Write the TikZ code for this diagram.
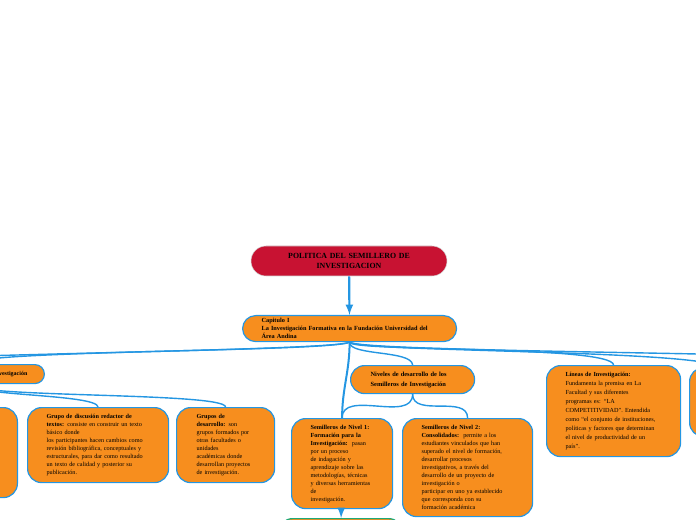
\documentclass[tikz,border=0pt]{standalone}
\usepackage{fontspec}
\setmainfont{Liberation Serif}
\newlength\pxu
\setlength\pxu{0.75pt}
\definecolor{naranja}{RGB}{247,142,30}
\definecolor{rojo}{RGB}{200,18,50}
\definecolor{azul}{RGB}{36,150,226}
\definecolor{verdeb}{RGB}{30,170,120}

\begin{document}
\begin{tikzpicture}[
x=1\pxu,
y=-1\pxu,
raiz/.style={
draw=gray!35,
fill=rojo,
rounded corners=15\pxu,
align=center,
font=\bfseries\fontsize{5.9}{7.5}\selectfont,
minimum width=196\pxu,
minimum height=30\pxu,
text width=180\pxu
},
caja/.style={
draw=azul,
line width=1.2\pxu,
fill=naranja,
rounded corners=14\pxu,
align=left,
anchor=north west,
inner ysep=0pt,
font=\fontsize{4.65}{6}\selectfont
},
conector/.style={
draw=azul,
line width=1.4\pxu
},
flecha/.style={
conector,
line width=2.2\pxu,
-latex
}
]

\useasboundingbox (0,0) rectangle (696,520);
\clip (0,0) rectangle (696,520);

\node[raiz] (raiz) at (349,261)
{POLITICA DEL SEMILLERO DE\\INVESTIGACION};

\node[caja, rounded corners=13\pxu, minimum height=26\pxu, text width=176\pxu, inner xsep=19\pxu,
font=\bfseries\fontsize{4.7}{6}\selectfont] (cap) at (242,315)
{Capitulo I\\La Investigación Formativa en la Fundación Universidad del\\Área Andina};

\node[caja, anchor=north east, align=right, rounded corners=9.5\pxu, minimum height=19\pxu,
text width=116\pxu, inner xsep=17\pxu, font=\bfseries\fontsize{4.5}{6}\selectfont] (tipo) at (45,364)
{Tipos de Investigación};

\node[caja, anchor=north east, minimum height=90\pxu, text width=80\pxu, inner xsep=20\pxu] (corti) at (18,407)
{};

\node[caja, minimum height=75\pxu, text width=103\pxu, inner xsep=19\pxu] (discusion) at (27,407)
{\textbf{Grupo de discusión redactor de}\\
\textbf{textos:} consiste en construir un texto\\
básico donde\\
los participantes hacen cambios como\\
revisión bibliográfica, conceptuales y\\
estructurales, para dar como resultado\\
un texto de calidad y posterior su\\
publicación.};

\node[caja, minimum height=75\pxu, text width=58\pxu, inner xsep=20\pxu] (desarrollo) at (176,407)
{\textbf{Grupos de}\\
\textbf{desarrollo:} son\\
grupos formados por\\
otras facultades o\\
unidades\\
académicas donde\\
desarrollan proyectos\\
de investigación.};

\node[caja, rounded corners=14\pxu, minimum height=28\pxu, text width=84\pxu, inner xsep=20\pxu,
font=\bfseries\fontsize{4.8}{7.5}\selectfont] (niv) at (350,365)
{Niveles de desarrollo de los\\Semilleros de Investigación};

\node[caja, minimum height=90\pxu, text width=63\pxu, inner xsep=19\pxu] (n1) at (291,418)
{\textbf{Semilleros de Nivel 1:}\\
\textbf{Formación para la}\\
\textbf{Investigación:}\ \ pasan\\
por un proceso\\
de indagación y\\
aprendizaje sobre las\\
metodologías, técnicas\\
y diversas herramientas\\
de\\
investigación.};

\node[caja, minimum height=98\pxu, text width=92\pxu, inner xsep=19\pxu] (n2) at (402,418)
{\textbf{Semilleros de Nivel 2:}\\
\textbf{Consolidados:}\ \ permite a los\\
estudiantes vinculados que han\\
superado el nivel de formación,\\
desarrollar procesos\\
investigativos, a través del\\
desarrollo de un proyecto de\\
investigación o\\
participar en uno ya establecido\\
que corresponda con su\\
formación académica};

\node[caja, minimum height=91\pxu, text width=96\pxu, inner xsep=19\pxu,
font=\fontsize{4.65}{6.75}\selectfont] (lin) at (546,365)
{\textbf{Líneas de Investigación:}\\
Fundamenta la premisa en La\\
Facultad y sus diferentes\\
programas es: ``LA\\
COMPETITIVIDAD''. Entendida\\
como ``el conjunto de instituciones,\\
políticas y factores que determinan\\
el nivel de productividad de un\\
país''.};

\node[caja, minimum height=69\pxu, minimum width=60\pxu] (cortd) at (689,367)
{};

\node[caja, draw=verdeb, minimum height=50\pxu, minimum width=124\pxu] (verde) at (278,518)
{};

\coordinate (fuerad) at (780,356);
\coordinate (fuerai) at (-200,362);

\draw[flecha] (raiz) -- (cap);
\draw[conector, line width=2\pxu] (cap.south) to[out=-90,in=90] (n1.north);
\draw[conector] (cap.south) .. controls (349,356) and (412,350) .. (niv.north);
\draw[conector] (cap.south) .. controls (349,352) and (612,345) .. (lin.north);
\draw[conector] (cap.south) .. controls (360,352) and (700,350) .. (cortd.north);
\draw[conector] (cap.south) .. controls (360,350) and (650,352) .. (fuerad);
\draw[conector] (cap.south) .. controls (330,352) and (-30,350) .. (tipo.north);
\draw[conector] (cap.south) .. controls (330,350) and (50,352) .. (fuerai);
\draw[conector] (tipo.south) .. controls (-30,396) and (97,394) .. (discusion.north);
\draw[conector] (tipo.south) .. controls (-30,398) and (225,392) .. (desarrollo.north);
\draw[conector] (tipo.south) to[out=-90,in=90] (corti.north);
\draw[conector] (niv.south) to[out=-90,in=90] (n1.north);
\draw[conector] (niv.south) to[out=-90,in=90] (n2.north);
\draw[flecha] (n1) -- (verde);

\end{tikzpicture}
\end{document}
